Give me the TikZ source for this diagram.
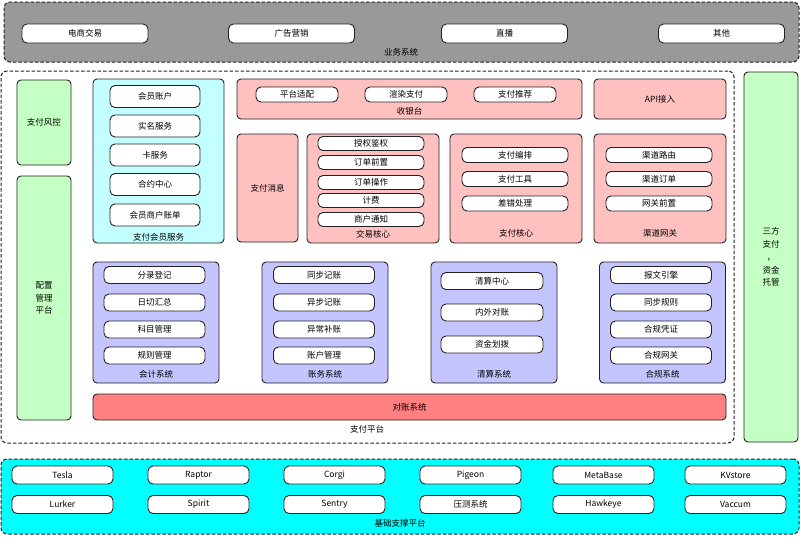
\documentclass[tikz,border=0pt]{standalone}
\usepackage{fontspec}
\setmainfont{Noto Sans CJK SC}
\usepackage{tikz}
\usetikzlibrary{positioning}

\definecolor{zonegray}{HTML}{999999}
\definecolor{zonecyan}{HTML}{00FFFF}
\definecolor{lightcyan}{HTML}{C4FFFF}
\definecolor{pinkbox}{HTML}{FFC0C0}
\definecolor{purplebox}{HTML}{C4C4FF}
\definecolor{redbox}{HTML}{FF8080}
\definecolor{greenbox}{HTML}{C4FFC4}
\definecolor{edge}{HTML}{222222}

\tikzset{
  zone/.style={draw=edge, dashed, dash pattern=on 3.5pt off 2pt, line width=1pt, rounded corners=6pt},
  grp/.style={draw=edge, line width=0.9pt, rounded corners=4pt},
  item/.style={draw=edge, fill=white, line width=0.9pt, rounded corners=5pt, inner sep=0pt},
  tag/.style={inner sep=0pt, font=\fontsize{8.5}{10}\selectfont},
  tall/.style={align=center, font=\fontsize{8.5}{12.8}\selectfont}
}

\begin{document}
\begin{tikzpicture}[x=1pt, y=-1pt, font=\fontsize{8.5}{10}\selectfont]
        \useasboundingbox[fill=white] (0,0) rectangle (800,536);
        % business systems
        \node[zone, fill=zonegray, minimum width=795, minimum height=60] (biz) at (401.5,32) {};
        \node[tag] (bizlbl) at (401,52) {业务系统};
        \foreach \x/\t [count=\i] in {85/电商交易, 291.5/广告营销, 504.5/直播, 721.5/其他} {
            \node[item, minimum width=126, minimum height=19] (biz\i) at (\x,33.5) {\t};
        }
        % payment platform
        \node[zone, minimum width=733, minimum height=372] (pay) at (367.5,257) {};
        \node[tag] (paylbl) at (367,429) {支付平台};
        \node[grp, tall, fill=greenbox, minimum width=54, minimum height=370] (third) at (771,257) {三方\\支付\\，\\资金\\托管};
        \node[grp, fill=greenbox, minimum width=54, minimum height=85] (risk) at (44,122.5) {支付风控};
        \node[grp, tall, fill=greenbox, minimum width=54, minimum height=244] (conf) at (44,298) {配置\\管理\\平台};
        % member services
        \node[grp, fill=lightcyan, minimum width=131, minimum height=164] (mem) at (158.5,161) {};
        \node[tag] (memlbl) at (158.5,237) {支付会员服务};
        \foreach \y/\t [count=\i] in {96.5/会员账户, 126/实名服务, 155/卡服务, 184.5/合约中心, 215/会员商户账单} {
            \node[item, minimum width=90, minimum height=22] (mem\i) at (155,\y) {\t};
        }
        % cashier
        \node[grp, fill=pinkbox, minimum width=345, minimum height=40] (cash) at (409.5,99) {};
        \node[tag] (cashlbl) at (409.5,111) {收银台};
        \foreach \x/\t [count=\i] in {297/平台适配, 406/渲染支付, 515/支付推荐} {
            \node[item, minimum width=82, minimum height=15] (cash\i) at (\x,94.5) {\t};
        }
        \node[grp, fill=pinkbox, minimum width=132, minimum height=40] (api) at (660,99) {API接入};
        \node[grp, fill=pinkbox, minimum width=61, minimum height=108] (msg) at (267.5,188) {支付消息};
        % trade core
        \node[grp, fill=pinkbox, minimum width=132, minimum height=109] (trade) at (373,188.5) {};
        \node[tag] (tradelbl) at (373,234) {交易核心};
        \foreach \y/\t [count=\i] in {143.5/授权鉴权, 162.5/订单前置, 182.5/订单操作, 200.5/计费, 219.5/商户通知} {
            \node[item, minimum width=106, minimum height=14] (trade\i) at (371,\y) {\t};
        }
        % payment core
        \node[grp, fill=pinkbox, minimum width=132, minimum height=109] (core) at (516,188.5) {};
        \node[tag] (corelbl) at (516,233) {支付核心};
        \foreach \y/\t [count=\i] in {155/支付编排, 179/支付工具, 203.5/差错处理} {
            \node[item, minimum width=106, minimum height=15] (core\i) at (515,\y) {\t};
        }
        % channel gateway
        \node[grp, fill=pinkbox, minimum width=132, minimum height=109] (chan) at (660,188.5) {};
        \node[tag] (chanlbl) at (660,233) {渠道网关};
        \foreach \y/\t [count=\i] in {155/渠道路由, 179/渠道订单, 203.5/网关前置} {
            \node[item, minimum width=106, minimum height=15] (chan\i) at (659,\y) {\t};
        }
        % accounting, ledger, clearing, compliance
        \foreach \x/\n/\t in {156/acct/会计系统, 325/ledg/账务系统, 494/clear/清算系统, 662.5/comp/合规系统} {
            \node[grp, fill=purplebox, minimum width=126, minimum height=121] (\n) at (\x,322.5) {};
            \node[tag] (\n lbl) at (\x,374) {\t};
        }
        \foreach \y/\t [count=\i] in {275/分录登记, 302.5/日切汇总, 329.5/科目管理, 355.5/规则管理} {
            \node[item, minimum width=101, minimum height=17] (acct\i) at (154.5,\y) {\t};
        }
        \foreach \y/\t [count=\i] in {275/同步记账, 302.5/异步记账, 329.5/异常补账, 355.5/账户管理} {
            \node[item, minimum width=101, minimum height=17] (ledg\i) at (324,\y) {\t};
        }
        \foreach \y/\t [count=\i] in {281/清算中心, 312.5/内外对账, 344.5/资金划拨} {
            \node[item, minimum width=102, minimum height=17] (clear\i) at (492,\y) {\t};
        }
        \foreach \y/\t [count=\i] in {275/报文引擎, 302.5/同步规则, 329.5/合规凭证, 355.5/合规网关} {
            \node[item, minimum width=101, minimum height=17] (comp\i) at (661,\y) {\t};
        }
        \node[grp, fill=redbox, minimum width=633, minimum height=26] (recon) at (409.5,407) {对账系统};
        % infrastructure
        \node[zone, fill=zonecyan, minimum width=798, minimum height=75] (base) at (400,496.5) {};
        \node[tag] (baselbl) at (400,523) {基础支撑平台};
        \foreach \x/\ta/\tb [count=\i] in {62.5/Tesla/Lurker, 198.5/Raptor/Spirit, 334.5/Corgi/Sentry, 470.5/Pigeon/压测系统, 603.5/MetaBase/Hawkeye, 735.5/KVstore/Vaccum} {
            \node[item, minimum width=101, minimum height=18] (basea\i) at (\x,475) {\ta};
            \node[item, minimum width=101, minimum height=18] (baseb\i) at (\x,504.5) {\tb};
        }
    \end{tikzpicture}
\end{document}
